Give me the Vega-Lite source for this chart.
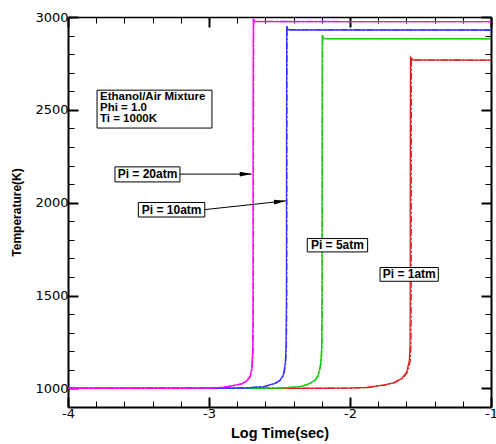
{
  "$schema": "https://vega.github.io/schema/vega-lite/v6.json",
  "width": 423,
  "height": 390,
  "autosize": "none",
  "padding": {"left": 68, "top": 17, "right": 5, "bottom": 37},
  "background": "white",
  "config": {
    "view": {"stroke": null},
    "axis": {"domainColor": "black", "tickColor": "black", "labelColor": "black", "titleColor": "black", "labelFont": "DejaVu Sans", "titleFont": "Liberation Sans", "grid": false, "labelFlush": false, "labelOverlap": false}
  },
  "datasets": {
    "curves": [
      {"p": "1", "m": "A", "t": -4, "T": 1000}, {"p": "1", "m": "A", "t": -2.3, "T": 1000}, {"p": "1", "m": "A", "t": -2.0, "T": 1002}, {"p": "1", "m": "A", "t": -1.882, "T": 1005}, {"p": "1", "m": "A", "t": -1.764, "T": 1018}, {"p": "1", "m": "A", "t": -1.693, "T": 1030}, {"p": "1", "m": "A", "t": -1.633, "T": 1054}, {"p": "1", "m": "A", "t": -1.598, "T": 1088}, {"p": "1", "m": "A", "t": -1.579, "T": 1151}, {"p": "1", "m": "A", "t": -1.574, "T": 1240}, {"p": "1", "m": "A", "t": -1.573, "T": 1500}, {"p": "1", "m": "A", "t": -1.572, "T": 2500}, {"p": "1", "m": "A", "t": -1.571, "T": 2783}, {"p": "1", "m": "A", "t": -1.56, "T": 2769}, {"p": "1", "m": "A", "t": -1.54, "T": 2768}, {"p": "1", "m": "A", "t": -1, "T": 2768},
      {"p": "1", "m": "B", "t": -4, "T": 1000}, {"p": "1", "m": "B", "t": -2.0, "T": 1002}, {"p": "1", "m": "B", "t": -1.875, "T": 1005}, {"p": "1", "m": "B", "t": -1.757, "T": 1018}, {"p": "1", "m": "B", "t": -1.686, "T": 1030}, {"p": "1", "m": "B", "t": -1.626, "T": 1054}, {"p": "1", "m": "B", "t": -1.591, "T": 1088}, {"p": "1", "m": "B", "t": -1.572, "T": 1151}, {"p": "1", "m": "B", "t": -1.567, "T": 1240}, {"p": "1", "m": "B", "t": -1.566, "T": 1500}, {"p": "1", "m": "B", "t": -1.565, "T": 2500}, {"p": "1", "m": "B", "t": -1.564, "T": 2780}, {"p": "1", "m": "B", "t": -1.553, "T": 2769}, {"p": "1", "m": "B", "t": -1, "T": 2768},
      {"p": "5", "m": "A", "t": -4, "T": 1000}, {"p": "5", "m": "A", "t": -2.7, "T": 1000}, {"p": "5", "m": "A", "t": -2.5, "T": 1002}, {"p": "5", "m": "A", "t": -2.355, "T": 1009}, {"p": "5", "m": "A", "t": -2.284, "T": 1027}, {"p": "5", "m": "A", "t": -2.248, "T": 1045}, {"p": "5", "m": "A", "t": -2.225, "T": 1072}, {"p": "5", "m": "A", "t": -2.208, "T": 1135}, {"p": "5", "m": "A", "t": -2.201, "T": 1223}, {"p": "5", "m": "A", "t": -2.199, "T": 1500}, {"p": "5", "m": "A", "t": -2.198, "T": 2500}, {"p": "5", "m": "A", "t": -2.197, "T": 2903}, {"p": "5", "m": "A", "t": -2.186, "T": 2884}, {"p": "5", "m": "A", "t": -2.16, "T": 2883}, {"p": "5", "m": "A", "t": -1, "T": 2883},
      {"p": "5", "m": "B", "t": -4, "T": 1000}, {"p": "5", "m": "B", "t": -2.5, "T": 1002}, {"p": "5", "m": "B", "t": -2.352, "T": 1009}, {"p": "5", "m": "B", "t": -2.281, "T": 1027}, {"p": "5", "m": "B", "t": -2.245, "T": 1045}, {"p": "5", "m": "B", "t": -2.222, "T": 1072}, {"p": "5", "m": "B", "t": -2.205, "T": 1135}, {"p": "5", "m": "B", "t": -2.198, "T": 1223}, {"p": "5", "m": "B", "t": -2.196, "T": 1500}, {"p": "5", "m": "B", "t": -2.195, "T": 2500}, {"p": "5", "m": "B", "t": -2.194, "T": 2900}, {"p": "5", "m": "B", "t": -2.183, "T": 2884}, {"p": "5", "m": "B", "t": -1, "T": 2883},
      {"p": "10", "m": "A", "t": -4, "T": 1000}, {"p": "10", "m": "A", "t": -3.0, "T": 1000}, {"p": "10", "m": "A", "t": -2.75, "T": 1002}, {"p": "10", "m": "A", "t": -2.615, "T": 1009}, {"p": "10", "m": "A", "t": -2.532, "T": 1027}, {"p": "10", "m": "A", "t": -2.496, "T": 1045}, {"p": "10", "m": "A", "t": -2.473, "T": 1072}, {"p": "10", "m": "A", "t": -2.459, "T": 1135}, {"p": "10", "m": "A", "t": -2.454, "T": 1223}, {"p": "10", "m": "A", "t": -2.451, "T": 1500}, {"p": "10", "m": "A", "t": -2.45, "T": 2500}, {"p": "10", "m": "A", "t": -2.449, "T": 2951}, {"p": "10", "m": "A", "t": -2.44, "T": 2932}, {"p": "10", "m": "A", "t": -2.42, "T": 2930}, {"p": "10", "m": "A", "t": -1, "T": 2930},
      {"p": "10", "m": "B", "t": -4, "T": 1000}, {"p": "10", "m": "B", "t": -2.75, "T": 1002}, {"p": "10", "m": "B", "t": -2.612, "T": 1009}, {"p": "10", "m": "B", "t": -2.529, "T": 1027}, {"p": "10", "m": "B", "t": -2.493, "T": 1045}, {"p": "10", "m": "B", "t": -2.47, "T": 1072}, {"p": "10", "m": "B", "t": -2.456, "T": 1135}, {"p": "10", "m": "B", "t": -2.451, "T": 1223}, {"p": "10", "m": "B", "t": -2.448, "T": 1500}, {"p": "10", "m": "B", "t": -2.447, "T": 2500}, {"p": "10", "m": "B", "t": -2.446, "T": 2948}, {"p": "10", "m": "B", "t": -2.437, "T": 2932}, {"p": "10", "m": "B", "t": -1, "T": 2930},
      {"p": "20", "m": "A", "t": -4, "T": 1000}, {"p": "20", "m": "A", "t": -3.3, "T": 1000}, {"p": "20", "m": "A", "t": -3.0, "T": 1002}, {"p": "20", "m": "A", "t": -2.9, "T": 1006}, {"p": "20", "m": "A", "t": -2.83, "T": 1015}, {"p": "20", "m": "A", "t": -2.768, "T": 1025}, {"p": "20", "m": "A", "t": -2.733, "T": 1040}, {"p": "20", "m": "A", "t": -2.709, "T": 1065}, {"p": "20", "m": "A", "t": -2.697, "T": 1106}, {"p": "20", "m": "A", "t": -2.69, "T": 1205}, {"p": "20", "m": "A", "t": -2.688, "T": 1400}, {"p": "20", "m": "A", "t": -2.687, "T": 2500}, {"p": "20", "m": "A", "t": -2.686, "T": 2993}, {"p": "20", "m": "A", "t": -2.68, "T": 2976}, {"p": "20", "m": "A", "t": -2.66, "T": 2975}, {"p": "20", "m": "A", "t": -1, "T": 2975},
      {"p": "20", "m": "B", "t": -4, "T": 1000}, {"p": "20", "m": "B", "t": -3.0, "T": 1002}, {"p": "20", "m": "B", "t": -2.897, "T": 1006}, {"p": "20", "m": "B", "t": -2.827, "T": 1015}, {"p": "20", "m": "B", "t": -2.765, "T": 1025}, {"p": "20", "m": "B", "t": -2.73, "T": 1040}, {"p": "20", "m": "B", "t": -2.706, "T": 1065}, {"p": "20", "m": "B", "t": -2.694, "T": 1106}, {"p": "20", "m": "B", "t": -2.687, "T": 1205}, {"p": "20", "m": "B", "t": -2.685, "T": 1400}, {"p": "20", "m": "B", "t": -2.684, "T": 2500}, {"p": "20", "m": "B", "t": -2.683, "T": 2990}, {"p": "20", "m": "B", "t": -2.677, "T": 2976}, {"p": "20", "m": "B", "t": -1, "T": 2975}
    ],
    "boxes": [
      {"label": "", "x0": -3.794, "x1": -2.979, "y0": 2606, "y1": 2402, "cx": -3.4, "cy": 2500},
      {"label": "Pi = 20atm", "x0": -3.667, "x1": -3.206, "y0": 2193, "y1": 2112, "cx": -3.436, "cy": 2153},
      {"label": "Pi = 10atm", "x0": -3.501, "x1": -3.03, "y0": 2001, "y1": 1923, "cx": -3.265, "cy": 1962},
      {"label": "Pi = 5atm", "x0": -2.303, "x1": -1.875, "y0": 1807, "y1": 1735, "cx": -2.089, "cy": 1771},
      {"label": "Pi = 1atm", "x0": -1.787, "x1": -1.374, "y0": 1651, "y1": 1577, "cx": -1.58, "cy": 1614}
    ],
    "info": [
      {"txt": "Ethanol/Air Mixture", "x": -3.773, "y": 2569},
      {"txt": "Phi = 1.0", "x": -3.773, "y": 2509},
      {"txt": "Ti = 1000K", "x": -3.773, "y": 2452}
    ],
    "arrows": [
      {"id": "a20", "x0": -3.206, "y0": 2154, "x1": -2.697, "y1": 2154},
      {"id": "a10", "x0": -3.03, "y0": 1963, "x1": -2.454, "y1": 2010}
    ]
  },
  "layer": [
    {
      "data": {"name": "curves"},
      "mark": {"type": "line", "strokeWidth": 1.3, "clip": true},
      "encoding": {
        "x": {"field": "t", "type": "quantitative", "scale": {"domain": [-4, -1], "nice": false, "zero": false},
          "axis": {"orient": "bottom", "values": [-4, -3.8, -3.6, -3.4, -3.2, -3, -2.8, -2.6, -2.4, -2.2, -2, -1.8, -1.6, -1.4, -1.2, -1],
            "labelExpr": "abs(datum.value-round(datum.value))<0.001 ? ''+round(datum.value) : ''",
            "tickSize": {"condition": {"test": "abs(datum.value-round(datum.value))<0.001", "value": -10}, "value": -6},
            "tickWidth": {"condition": {"test": "abs(datum.value-round(datum.value))<0.001", "value": 2}, "value": 1},
            "domainWidth": 2, "labelFontSize": 13, "labelPadding": 10,
            "title": "Log Time(sec)", "titleFontSize": 14.5, "titleFontWeight": "bold", "titlePadding": 2}},
        "y": {"field": "T", "type": "quantitative", "scale": {"domain": [900, 3000], "nice": false, "zero": false},
          "axis": {"orient": "left", "values": [1000, 1100, 1200, 1300, 1400, 1500, 1600, 1700, 1800, 1900, 2000, 2100, 2200, 2300, 2400, 2500, 2600, 2700, 2800, 2900, 3000],
            "labelExpr": "datum.value % 500 == 0 ? ''+datum.value : ''",
            "tickSize": {"condition": {"test": "datum.value % 500 == 0", "value": -10}, "value": -6},
            "tickWidth": {"condition": {"test": "datum.value % 500 == 0", "value": 2}, "value": 1},
            "domainWidth": 2, "labelFontSize": 13, "labelPadding": 10,
            "title": "Temperature(K)", "titleFontSize": 12, "titleFontWeight": "bold", "titleX": -52, "titleBaseline": "middle"}},
        "color": {"field": "p", "type": "nominal", "scale": {"domain": ["20", "10", "5", "1"], "range": ["#ff00ff", "#3535ff", "#10cc10", "#dd2020"]}, "legend": null},
        "strokeDash": {"field": "m", "type": "nominal", "scale": {"domain": ["A", "B"], "range": [[1, 0], [7, 2, 2, 2]]}, "legend": null}
      }
    },
    {
      "data": {"name": "boxes"},
      "mark": {"type": "rect", "fill": "white", "stroke": "black", "strokeWidth": 1},
      "encoding": {
        "x": {"field": "x0", "type": "quantitative",
          "axis": {"orient": "top", "values": [-4, -3.8, -3.6, -3.4, -3.2, -3, -2.8, -2.6, -2.4, -2.2, -2, -1.8, -1.6, -1.4, -1.2, -1],
            "labels": false, "title": null,
            "tickSize": {"condition": {"test": "abs(datum.value-round(datum.value))<0.001", "value": -10}, "value": -6},
            "tickWidth": {"condition": {"test": "abs(datum.value-round(datum.value))<0.001", "value": 2}, "value": 1},
            "domainWidth": 1.5}},
        "x2": {"field": "x1"},
        "y": {"field": "y0", "type": "quantitative",
          "axis": {"orient": "right", "values": [1000, 1100, 1200, 1300, 1400, 1500, 1600, 1700, 1800, 1900, 2000, 2100, 2200, 2300, 2400, 2500, 2600, 2700, 2800, 2900, 3000],
            "labels": false, "title": null,
            "tickSize": {"condition": {"test": "datum.value % 500 == 0", "value": -10}, "value": -6},
            "tickWidth": {"condition": {"test": "datum.value % 500 == 0", "value": 2}, "value": 1},
            "domainWidth": 2}},
        "y2": {"field": "y1"}
      }
    },
    {
      "data": {"name": "boxes"},
      "mark": {"type": "text", "font": "Liberation Sans", "fontWeight": "bold", "fontSize": 12, "align": "center", "baseline": "middle", "color": "black"},
      "encoding": {
        "x": {"field": "cx", "type": "quantitative", "axis": null},
        "y": {"field": "cy", "type": "quantitative", "axis": null},
        "text": {"field": "label"}
      }
    },
    {
      "data": {"name": "info"},
      "mark": {"type": "text", "font": "Liberation Sans", "fontWeight": "bold", "fontSize": 11.5, "align": "left", "baseline": "middle", "color": "black"},
      "encoding": {
        "x": {"field": "x", "type": "quantitative", "axis": null},
        "y": {"field": "y", "type": "quantitative", "axis": null},
        "text": {"field": "txt"}
      }
    },
    {
      "data": {"name": "arrows"},
      "mark": {"type": "rule", "color": "black", "strokeWidth": 1},
      "encoding": {
        "x": {"field": "x0", "type": "quantitative", "axis": null},
        "y": {"field": "y0", "type": "quantitative", "axis": null},
        "x2": {"field": "x1"},
        "y2": {"field": "y1"}
      }
    },
    {
      "data": {"name": "arrows"},
      "transform": [{"filter": "datum.id == 'a20'"}],
      "mark": {"type": "point", "shape": "M 0 0 L -2 -0.4 L -2 0.4 Z", "filled": true, "color": "black", "size": 144, "opacity": 1, "angle": 0},
      "encoding": {
        "x": {"field": "x1", "type": "quantitative", "axis": null},
        "y": {"field": "y1", "type": "quantitative", "axis": null}
      }
    },
    {
      "data": {"name": "arrows"},
      "transform": [{"filter": "datum.id == 'a10'"}],
      "mark": {"type": "point", "shape": "M 0 0 L -2 -0.4 L -2 0.4 Z", "filled": true, "color": "black", "size": 144, "opacity": 1, "angle": -6},
      "encoding": {
        "x": {"field": "x1", "type": "quantitative", "axis": null},
        "y": {"field": "y1", "type": "quantitative", "axis": null}
      }
    }
  ],
  "resolve": {"axis": {"x": "independent", "y": "independent"}}
}
